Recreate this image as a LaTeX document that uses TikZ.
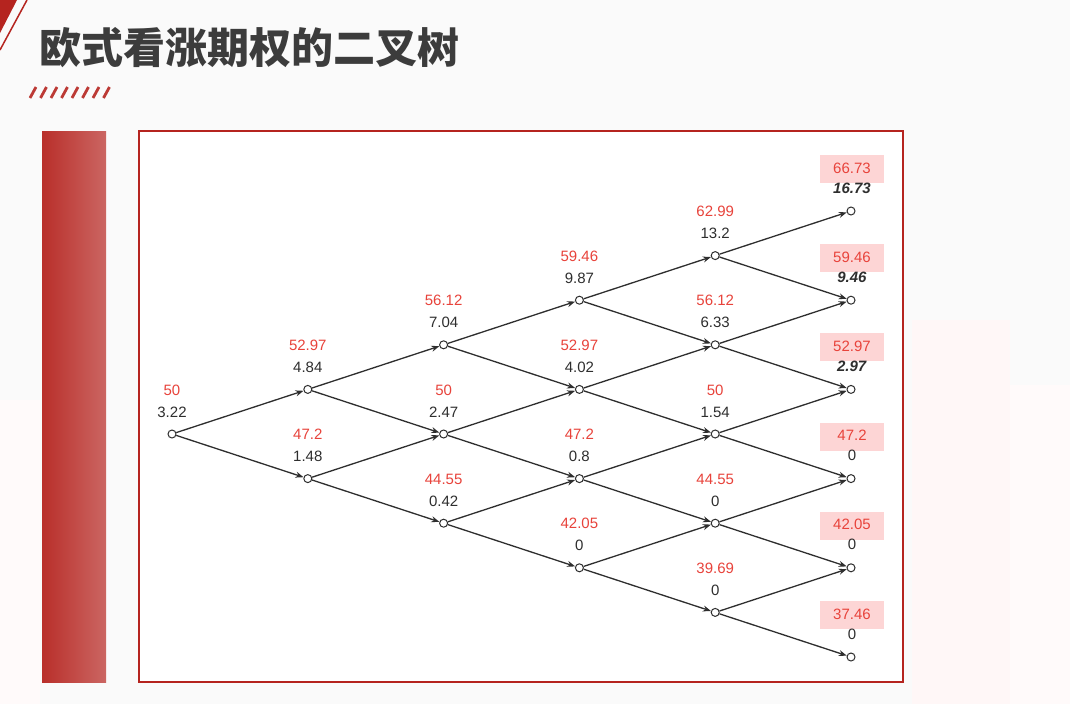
\documentclass[tikz,border=0pt]{standalone}
\usepackage{fontspec}
\setmainfont{Liberation Sans}
\newfontfamily\cjk{Noto Sans CJK SC}
\usepackage{tikz}
\usetikzlibrary{arrows.meta,positioning}

\definecolor{slidered}{HTML}{B5241F}
\definecolor{pricered}{HTML}{E8433B}
\definecolor{valgray}{HTML}{2E2E2E}
\definecolor{boxpink}{HTML}{FDD5D5}
\definecolor{titlegray}{HTML}{3C3C3C}

\tikzset{
  knot/.style={circle,draw=valgray,line width=1pt,inner sep=0pt,minimum size=8pt},
  branch/.style={draw=valgray,line width=1.3pt,-{Stealth[length=8pt,width=6pt]}},
  price/.style={text=pricered,font=\fontsize{15}{15}\selectfont,inner sep=1pt},
  value/.style={text=valgray,font=\fontsize{15}{15}\selectfont,inner sep=1pt},
  payoff/.style={fill=boxpink,minimum width=64pt,minimum height=28pt,inner sep=0pt},
}

\begin{document}
\begin{tikzpicture}[x=1pt,y=-1pt]
    \useasboundingbox (0,0) rectangle (1070,704);
    \fill[gray!4] (0,0) rectangle (1070,704);
    % faint buildings behind the slide
    \fill[red!3] (912,320) rectangle (1010,704);
    \fill[red!2] (1010,385) rectangle (1070,704);
    \fill[red!2] (0,400) rectangle (40,704);
    % corner and title
    \fill[slidered] (0,0) -- (17,0) -- (0,33) -- cycle;
    \draw[slidered,line width=1.5pt] (27,0) -- (0,50);
    \node[anchor=west,text=titlegray,font=\cjk\bfseries\fontsize{42}{42}\selectfont] (title) at (36,48) {欧式看涨期权的二叉树};
    \foreach \k in {0,...,7}{
            \draw[slidered!90,line width=2.8pt] ({30+10.5*\k},98) -- ({36+10.5*\k},87);
        }
    % side bar and frame
    \shade[left color=slidered!95,right color=slidered!70] (42,131) rectangle (106,682);
    \draw[slidered,line width=2pt,fill=white] (139,131) rectangle (903,682);

    % tree: knots with price and option value
    \foreach \i/\j/\p/\v in {0/0/50/3.22,
            1/0/52.97/4.84, 1/1/47.2/1.48,
            2/0/56.12/7.04, 2/1/50/2.47, 2/2/44.55/0.42,
            3/0/59.46/9.87, 3/1/52.97/4.02, 3/2/47.2/0.8, 3/3/42.05/0,
            4/0/62.99/13.2, 4/1/56.12/6.33, 4/2/50/1.54, 4/3/44.55/0, 4/4/39.69/0}{
            \node[knot] (n\i\j) at ({172+135.8*\i},{434-44.6*\i+89.2*\j}) {};
            \node[value] (v\i\j) at ({172+135.8*\i},{434-44.6*\i+89.2*\j-22}) {\v};
            \node[price] (p\i\j) at ({172+135.8*\i},{434-44.6*\i+89.2*\j-44}) {\p};
        }
    % last step: payoff at maturity
    \foreach \j/\p/\v in {0/66.73/\textbf{\textit{16.73}}, 1/59.46/\textbf{\textit{9.46}},
            2/52.97/\textbf{\textit{2.97}}, 3/47.2/0, 4/42.05/0, 5/37.46/0}{
            \node[knot] (n5\j) at (851,{211+89.2*\j}) {};
            \node[payoff] (b5\j) at (852,{211+89.2*\j-42}) {};
            \node[price] (p5\j) at (852,{211+89.2*\j-43}) {\p};
            \node[value] (v5\j) at (852,{211+89.2*\j-23}) {\v};
        }

    % up and down branches
    \foreach \i in {0,...,4}{
            \foreach \j in {0,...,\i}{
                    \pgfmathtruncatemacro{\ni}{\i+1}
                    \pgfmathtruncatemacro{\nj}{\j+1}
                    \draw[branch] (n\i\j) -- (n\ni\j);
                    \draw[branch] (n\i\j) -- (n\ni\nj);
                }
        }
\end{tikzpicture}
\end{document}
